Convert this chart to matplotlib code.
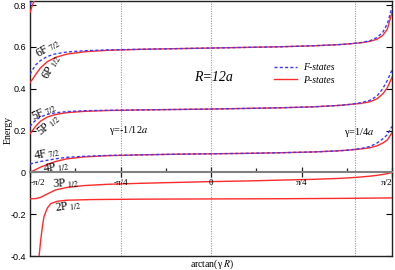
import numpy as np
import matplotlib
matplotlib.use("Agg")
import matplotlib.pyplot as plt
from matplotlib.ticker import FixedLocator

plt.rcParams['mathtext.fontset'] = 'stix'
SERIF = ['Liberation Serif', 'DejaVu Serif']
SANS = ['Liberation Sans', 'DejaVu Sans']

# ---------------- data ----------------
R = 12.0
gammas = [-1/12, 1/4]          # marked interaction strengths (units of 1/a)

# shared grid of arctan(gamma R)
theta = [-1.5708, -1.55, -1.52, -1.48, -1.42, -1.35, -1.25, -1.10, -0.90, -0.60,
         -0.30, 0.0, 0.30, 0.60, 0.90, 1.10, 1.20, 1.30, 1.38, 1.44, 1.49, 1.53, 1.5708]

E_6F = [0.470, 0.490, 0.515, 0.535, 0.555, 0.567, 0.576, 0.582, 0.586, 0.589,
        0.592, 0.595, 0.598, 0.601, 0.606, 0.611, 0.615, 0.621, 0.630, 0.645, 0.670, 0.710, 0.790]
E_6P = [0.430, 0.445, 0.470, 0.500, 0.530, 0.550, 0.566, 0.577, 0.584, 0.589,
        0.592, 0.595, 0.598, 0.601, 0.606, 0.611, 0.615, 0.620, 0.627, 0.637, 0.655, 0.685, 0.765]
E_5F = [0.220, 0.235, 0.250, 0.265, 0.278, 0.285, 0.291, 0.295, 0.297, 0.299,
        0.301, 0.303, 0.306, 0.309, 0.314, 0.320, 0.325, 0.333, 0.345, 0.365, 0.400, 0.440, 0.490]
E_5P = [0.185, 0.200, 0.222, 0.245, 0.265, 0.277, 0.286, 0.292, 0.296, 0.299,
        0.301, 0.303, 0.306, 0.309, 0.314, 0.320, 0.325, 0.330, 0.338, 0.352, 0.375, 0.405, 0.455]
E_4F = [0.040, 0.043, 0.047, 0.052, 0.058, 0.065, 0.072, 0.077, 0.081, 0.084,
        0.087, 0.089, 0.091, 0.094, 0.098, 0.103, 0.107, 0.114, 0.124, 0.140, 0.160, 0.180, 0.220]
E_4P = [0.000, 0.006, 0.014, 0.025, 0.038, 0.052, 0.065, 0.074, 0.080, 0.084,
        0.087, 0.089, 0.091, 0.094, 0.098, 0.103, 0.107, 0.112, 0.118, 0.127, 0.140, 0.155, 0.190]
E_3P = [-0.126, -0.126, -0.125, -0.120, -0.103, -0.084, -0.072, -0.063, -0.057, -0.052,
        -0.048, -0.044, -0.041, -0.037, -0.033, -0.029, -0.026, -0.022, -0.018, -0.014, -0.010, -0.006, 0.000]

theta_2P = [-1.500, -1.492, -1.477, -1.463, -1.449, -1.420, -1.390, -1.333, -1.248, -1.038,
            -0.602, 0.0, 0.602, 1.213, 1.5708]
E_2P = [-0.450, -0.400, -0.320, -0.257, -0.210, -0.170, -0.149, -0.138, -0.133, -0.130,
        -0.128, -0.127, -0.126, -0.124, -0.122]

theta_7 = [-1.5708, -1.55, -1.52]
E_7F = [0.800, 0.830, 0.870]
E_7P = [0.765, 0.800, 0.840]

xtick_vals = [-np.pi/2, -np.pi/4, 0, np.pi/4, np.pi/2]
xtick_labels = ['-π/2', '-π/4', '0', 'π/4', 'π/2']
xtick_label_pos = [-1.505, -np.pi/4, 0, np.pi/4, 1.527]
xminor_vals = [-3*np.pi/8, -np.pi/8, np.pi/8, 3*np.pi/8]
ytick_vals = [-0.4, -0.2, 0.0, 0.2, 0.4, 0.6, 0.8]
ytick_labels = ['-0.4', '-0.2', '0', '0.2', '0.4', '0.6', '0.8']

# ---------------- figure ----------------
fig = plt.figure(figsize=(3.95, 2.70), dpi=100)
ax = fig.add_axes([30/395, 14/270, 362/395, 255/270])
ax.set_xlim(-np.pi/2, np.pi/2)
ax.set_ylim(-0.4, 0.82)

RED = '#ff2a2a'
BLUE = '#3a3aff'
dash = (0, (2.2, 1.6))

# vertical dotted guide lines
for g in gammas:
    ax.axvline(np.arctan(g*R), color='#999999', ls=(0, (1, 1.2)), lw=0.8, zorder=1)
ax.axvline(0, color='#999999', ls=(0, (1, 1.2)), lw=0.8, zorder=1)

# P states (red solid)
for E in (E_6P, E_5P, E_4P, E_3P):
    ax.plot(theta, E, color=RED, lw=1.0, zorder=3)
ax.plot(theta_2P, E_2P, color=RED, lw=1.0, zorder=3)
ax.plot(theta_7, E_7P, color=RED, lw=1.0, zorder=3)
# F states (blue dashed)
for E in (E_6F, E_5F, E_4F):
    ax.plot(theta, E, color=BLUE, lw=1.0, ls=dash, zorder=4)
ax.plot(theta_7, E_7F, color=BLUE, lw=1.0, ls=dash, zorder=4)

# legend
hF, = ax.plot([], [], color=BLUE, lw=1.0, ls=dash, label='F-states')
hP, = ax.plot([], [], color=RED, lw=1.0, label='P-states')
leg = ax.legend(handles=[hF, hP], loc='upper left', bbox_to_anchor=(0.65, 0.79),
                frameon=False, handlelength=2.4, handletextpad=0.6, labelspacing=0.35,
                prop={'family': SERIF, 'style': 'italic', 'size': 7})

# axes style
ax.set_xticks([])
ax.set_yticks(ytick_vals)
ax.set_yticklabels(ytick_labels, family=SANS, fontsize=6.5)
ax.tick_params(axis='y', direction='in', length=4, width=0.8, right=True, left=True, pad=3)
for s in ax.spines.values():
    s.set_linewidth(1.0)
    s.set_color('#222222')

# zero axis with pi ticks
ax2 = ax.twiny()
ax2.set_xlim(ax.get_xlim())
for name in ('top', 'left', 'right'):
    ax2.spines[name].set_visible(False)
ax2.spines['bottom'].set_position(('data', 0))
ax2.spines['bottom'].set_color('#808080')
ax2.spines['bottom'].set_linewidth(1.5)
ax2.xaxis.set_ticks_position('bottom')
ax2.set_xticks(xtick_vals)
ax2.set_xticklabels([''] * len(xtick_vals))
ax2.xaxis.set_minor_locator(FixedLocator(xminor_vals))
ax2.tick_params(axis='x', which='major', direction='inout', length=7, width=0.9,
                color='#222222')
ax2.tick_params(axis='x', which='minor', direction='in', length=3, width=0.9, color='#222222')
for xp, lab in zip(xtick_label_pos, xtick_labels):
    ax.text(xp, -0.052, lab, family=SERIF, fontsize=6.5, ha='center', va='center', zorder=6)

# axis labels
fig.text(8/395, 1 - 130/270, 'Energy', rotation=90, ha='center', va='center',
         family=SERIF, fontsize=7)
fig.text(212/395, 1 - 264/270, 'arctan(γ $R$)', ha='center', va='center',
         family=SERIF, fontsize=7)

# annotations
tk = dict(family=SERIF, fontsize=8.5, ha='center', va='center', zorder=6)
ax.text(-1.410, 0.593, r'6F$_{\;7/2}$', rotation=30, **tk)
ax.text(-1.385, 0.503, r'6P$_{\;1/2}$', rotation=60, **tk)
ax.text(-1.445, 0.288, r'5F$_{\;7/2}$', rotation=25, **tk)
ax.text(-1.405, 0.224, r'5P$_{\;1/2}$', rotation=40, **tk)
ax.text(-1.425, 0.090, r'4F$_{\;7/2}$', rotation=10, **tk)
ax.text(-1.345, 0.024, r'4P$_{\;1/2}$', rotation=8, **tk)
ax.text(-1.255, -0.054, r'3P$_{\;1/2}$', rotation=3, **tk)
ax.text(-1.240, -0.161, r'2P$_{\;1/2}$', rotation=8, **tk)
ax.text(0.026, 0.456, 'R=12a', family=SERIF, style='italic', fontsize=10,
        ha='center', va='center')
ax.text(-0.716, 0.199, r'γ=-1/12$a$', family=SERIF, fontsize=7.5, ha='center', va='center')
ax.text(1.283, 0.189, r'γ=1/4$a$', family=SERIF, fontsize=7.5, ha='center', va='center')

fig.savefig('out.png', dpi=100)
